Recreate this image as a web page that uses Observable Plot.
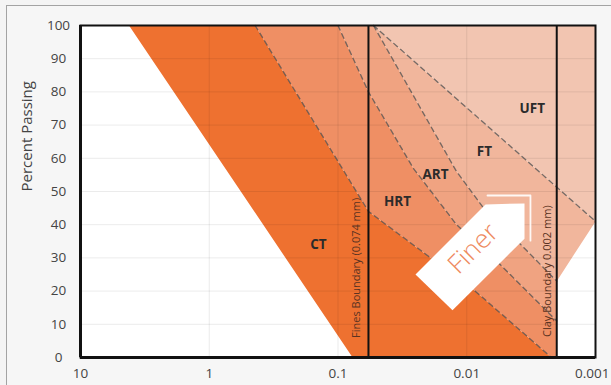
<!DOCTYPE html>
<html>
<head>
<meta charset="utf-8">
<script src="https://cdn.jsdelivr.net/npm/d3@7"></script>
<script src="https://cdn.jsdelivr.net/npm/@observablehq/plot@0.6"></script>
<style>
  html, body { margin: 0; padding: 0; width: 611px; height: 385px; overflow: hidden; background: #f4f4f4; }
  #box { position: absolute; left: 6px; top: 5px; width: 800px; height: 600px; border: 1.5px solid #a3a3a3; background: #f6f6f6; }
  #chart { position: absolute; left: 0; top: 0; }
</style>
</head>
<body>
<div id="box"></div>
<div id="chart"></div>
<script>
// ---- Data (grain size in mm, percent passing) ----
const xTicks = [10, 1, 0.1, 0.01, 0.001];
const yTicks = [0, 10, 20, 30, 40, 50, 60, 70, 80, 90, 100];

const finesBoundary = 0.058;   // drawn position of "Fines Boundary (0.074 mm)"
const clayBoundary = 0.002;

const coarseEdge = [{size: 4.2, pass: 100}, {size: 0.077, pass: 0}];
const lineA = [{size: 0.44, pass: 100}, {size: 0.058, pass: 44}, {size: 0.0086, pass: 20}, {size: 0.0022, pass: 0}];
const lineB = [{size: 0.10, pass: 100}, {size: 0.058, pass: 80}, {size: 0.026, pass: 57}, {size: 0.012, pass: 40}, {size: 0.0055, pass: 28}, {size: 0.002, pass: 11}];
const lineF = [{size: 0.053, pass: 100}, {size: 0.012, pass: 56}, {size: 0.0074, pass: 45}, {size: 0.0038, pass: 34}, {size: 0.002, pass: 23}];
const lineU = [{size: 0.053, pass: 100}, {size: 0.001, pass: 41}];
const fineEdge = [{size: 0.002, pass: 23}, {size: 0.001, pass: 41}];

const bandNames = ["CT", "HRT", "ART", "FT", "UFT"];
const bandColors = ["#EE7130", "#EF8F64", "#F0A381", "#F1B69C", "#F2C5B1"];

const bandLabels = [
  {name: "CT", size: 0.142, pass: 34},
  {name: "HRT", size: 0.0345, pass: 47},
  {name: "ART", size: 0.0175, pass: 55},
  {name: "FT", size: 0.0073, pass: 62},
  {name: "UFT", size: 0.0031, pass: 75}
];

const arrowShape = [{size: 0.025, pass: 25}, {size: 0.00715, pass: 46.1}, {size: 0.00356, pass: 46.4}, {size: 0.00356, pass: 35.8}, {size: 0.0129, pass: 14.2}];
const arrowTrim = [{size: 0.0069, pass: 48.8}, {size: 0.0032, pass: 48.8}, {size: 0.0032, pass: 35.2}];
const arrowLabel = [{text: "Finer", size: 0.0089, pass: 32.8}];

const boundaryLabels = [
  {text: "Fines Boundary (0.074 mm)", size: finesBoundary, pass: 27, dx: -12},
  {text: "Clay Boundary 0.002 mm)", size: clayBoundary, pass: 26, dx: -9}
];

// ---- Build band polygons from the boundary lines ----
const rev = a => a.slice().reverse();
const polygons = [
  [coarseEdge[0], ...lineA, coarseEdge[1]],
  [...lineA, {size: clayBoundary, pass: 0}, ...rev(lineB)],
  [...lineB, ...rev(lineF)],
  [...lineF, fineEdge[1], lineU[0]],
  [lineU[0], lineU[1], {size: 0.001, pass: 100}]
];

const font = "'Open Sans', 'DejaVu Sans', sans-serif";
const lastTick = xTicks[xTicks.length - 1];

const marks = [
  Plot.frame({fill: "white", stroke: null}),
  ...polygons.map((poly, i) => Plot.line(poly, {x: "size", y: "pass", fill: bandColors[i], stroke: "none"})),
  Plot.gridX(xTicks, {stroke: "#000", strokeOpacity: 0.08, strokeWidth: 1}),
  Plot.gridY(yTicks, {stroke: "#000", strokeOpacity: 0.08, strokeWidth: 1}),
  ...[lineA, lineB, lineF, lineU].map(l => Plot.line(l, {x: "size", y: "pass", stroke: "#4a4a4a", strokeOpacity: 0.75, strokeWidth: 1.3, strokeDasharray: "5,4"})),
  Plot.line(arrowShape, {x: "size", y: "pass", fill: "white", stroke: "none"}),
  Plot.line(arrowTrim, {x: "size", y: "pass", stroke: "white", strokeWidth: 1.8, strokeOpacity: 0.9}),
  Plot.text(arrowLabel, {x: "size", y: "pass", text: "text", rotate: -45, fontSize: 26, fontWeight: 300, fill: "#EE8A5E", fontFamily: font}),
  Plot.text(bandLabels, {x: "size", y: "pass", text: "name", fontSize: 13.5, fontWeight: "bold", fill: "#2b2b2b", fontFamily: font}),
  Plot.ruleX([finesBoundary, clayBoundary], {stroke: "#111", strokeWidth: 2}),
  ...boundaryLabels.map(b => Plot.text([b], {x: "size", y: "pass", text: "text", dx: b.dx, rotate: -90, fontSize: 11, fill: "#5a3322", fontFamily: font})),
  Plot.frame({stroke: "#111", strokeWidth: 2}),
  Plot.ruleX([10], {stroke: "#111", strokeWidth: 3}),
  Plot.ruleY([0], {stroke: "#111", strokeWidth: 3}),
  Plot.axisX({ticks: xTicks.slice(0, -1), tickSize: 0, tickPadding: 11, tickFormat: d => String(d), fontSize: 13.5, fill: "#444", label: null}),
  Plot.axisX({ticks: [lastTick], tickSize: 0, tickPadding: 11, tickFormat: d => String(d), textAnchor: "end", dx: 14, fontSize: 13.5, fill: "#444", label: null}),
  Plot.axisY({ticks: yTicks, tickSize: 0, tickPadding: 22, textAnchor: "middle", fontSize: 13.5, fill: "#444", label: null}),
  Plot.text(["Percent Passing"], {frameAnchor: "left", dx: -53, rotate: -90, fontSize: 15, fill: "#444", fontFamily: font})
];

const chart = Plot.plot({
  width: 611,
  height: 385,
  marginLeft: 80,
  marginRight: 16,
  marginTop: 25,
  marginBottom: 28,
  x: {type: "log", domain: [10, 0.001]},
  y: {domain: [0, 100]},
  style: {background: "transparent", fontFamily: font, fontSize: "13px", overflow: "visible"},
  marks
});
document.getElementById("chart").append(chart);
</script>
</body>
</html>
